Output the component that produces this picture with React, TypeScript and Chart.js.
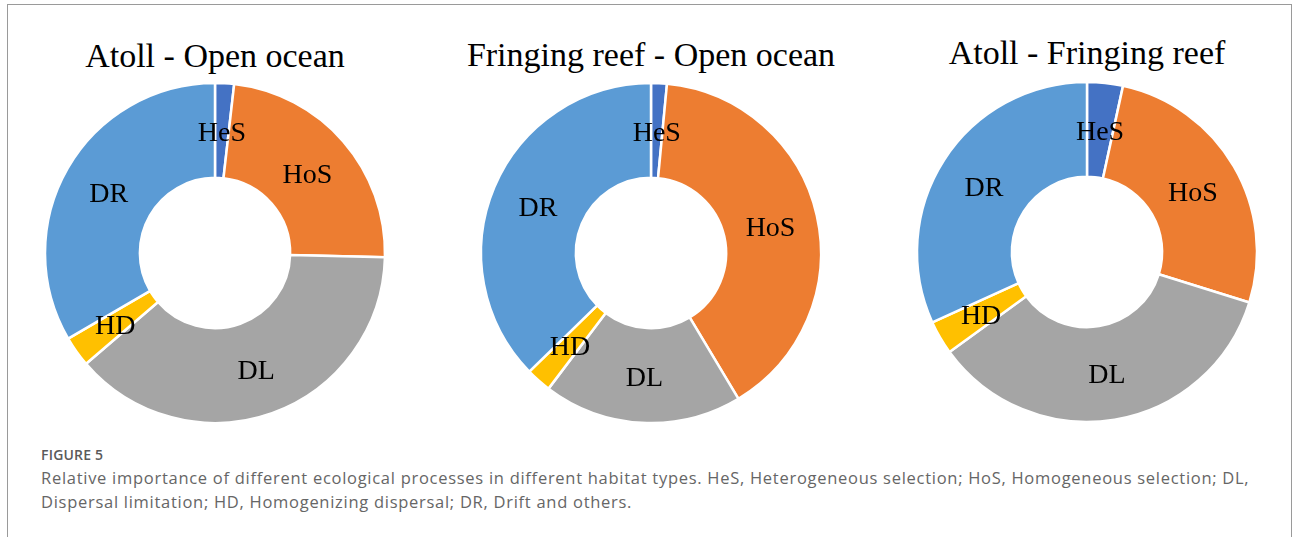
import { useEffect, useRef } from "react";
import { Chart, registerables } from "chart.js";

Chart.register(...registerables);

// Ecological process categories, in clockwise order from 12 o'clock
const categories = ["HeS", "HoS", "DL", "HD", "DR"];
const sliceColors = ["#4472C4", "#ED7D31", "#A5A5A5", "#FFC000", "#5B9BD5"];

// Relative importance (%) of each process per habitat pair
const atollOpenOcean = [1.8, 23.6, 38.3, 2.9, 33.4];
const fringingOpenOcean = [1.5, 39.9, 18.9, 2.4, 37.3];
const atollFringing = [3.4, 26.4, 35.2, 3.2, 31.8];

const panelTitles = [
  "Atoll - Open ocean",
  "Fringing reef - Open ocean",
  "Atoll - Fringing reef",
];

const captionHead = "FIGURE 5";
const captionLines = [
  "Relative importance of different ecological processes in different habitat types. HeS, Heterogeneous selection; HoS, Homogeneous selection; DL,",
  "Dispersal limitation; HD, Homogenizing dispersal; DR, Drift and others.",
];

const SERIF = '"Liberation Serif", "Times New Roman", serif';
const CANVAS = 360;

// Writes each category name at the middle of its ring segment
const sliceLabels = {
  id: "sliceLabels",
  afterDatasetsDraw(chart: any) {
    const { ctx } = chart;
    const meta = chart.getDatasetMeta(0);
    ctx.save();
    ctx.font = `28px ${SERIF}`;
    ctx.fillStyle = "#000000";
    ctx.textAlign = "center";
    ctx.textBaseline = "middle";
    meta.data.forEach((arc: any, i: number) => {
      const p = arc.tooltipPosition(false);
      ctx.fillText(String(chart.data.labels[i]), p.x, p.y + 3);
    });
    ctx.restore();
  },
};

function Donut(props: { values: number[]; title: string; cx: number; cy: number; titleTop: number }) {
  const ref = useRef<HTMLCanvasElement | null>(null);

  useEffect(() => {
    if (!ref.current) return;
    const chart = new Chart(ref.current, {
      type: "doughnut",
      data: {
        labels: categories,
        datasets: [
          {
            data: props.values,
            backgroundColor: sliceColors,
            borderColor: "#ffffff",
            borderWidth: 2.5,
            hoverOffset: 0,
          },
        ],
      },
      options: {
        responsive: false,
        animation: false,
        radius: 170,
        cutout: 79,
        layout: { padding: 0 },
        plugins: {
          legend: { display: false },
          tooltip: { enabled: false },
        },
        events: [],
      },
      plugins: [sliceLabels],
    });
    return () => chart.destroy();
  }, [props.values]);

  return (
    <>
      <div
        style={{
          position: "absolute",
          left: props.cx - 300,
          top: props.titleTop,
          width: 600,
          textAlign: "center",
          fontFamily: SERIF,
          fontSize: 34,
          lineHeight: "34px",
          color: "#000",
          whiteSpace: "nowrap",
        }}
      >
        {props.title}
      </div>
      <canvas
        ref={ref}
        width={CANVAS}
        height={CANVAS}
        style={{
          position: "absolute",
          left: props.cx - CANVAS / 2,
          top: props.cy - CANVAS / 2,
          width: CANVAS,
          height: CANVAS,
        }}
      />
    </>
  );
}

export default function App() {
  return (
    <div
      style={{
        position: "absolute",
        left: 0,
        top: 0,
        width: 1293,
        height: 537,
        background: "#ffffff",
        overflow: "hidden",
      }}
    >
      <div
        style={{
          position: "absolute",
          left: 7,
          top: 4,
          width: 1285,
          height: 700,
          boxSizing: "border-box",
          border: "1px solid #9a9a9a",
        }}
      />
      <Donut values={atollOpenOcean} title={panelTitles[0]} cx={215} cy={253} titleTop={39} />
      <Donut values={fringingOpenOcean} title={panelTitles[1]} cx={651} cy={253} titleTop={38} />
      <Donut values={atollFringing} title={panelTitles[2]} cx={1087} cy={252} titleTop={36} />
      <div
        style={{
          position: "absolute",
          left: 41,
          top: 448,
          fontFamily: '"Open Sans", sans-serif',
          fontWeight: 600,
          fontSize: 14,
          lineHeight: "14px",
          letterSpacing: 0.2,
          color: "#5a5a5a",
          whiteSpace: "nowrap",
        }}
      >
        {captionHead}
      </div>
      <div
        style={{
          position: "absolute",
          left: 41,
          top: 466,
          fontFamily: '"Open Sans", sans-serif',
          fontSize: 16.5,
          lineHeight: "24px",
          letterSpacing: 0.72,
          color: "#666666",
          whiteSpace: "nowrap",
        }}
      >
        {captionLines.map((t, i) => (
          <div key={i}>{t}</div>
        ))}
      </div>
    </div>
  );
}
